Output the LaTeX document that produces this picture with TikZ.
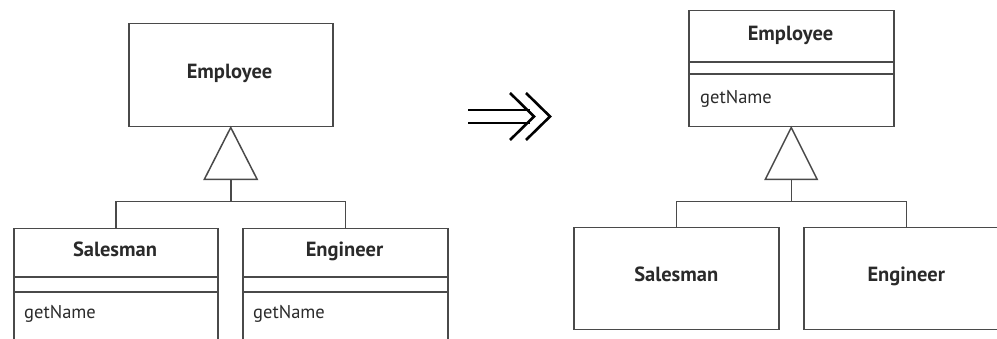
\documentclass[tikz,border=0pt]{standalone}
\usepackage{fontspec}
\setmainfont{PT Sans}
\definecolor{linec}{HTML}{4A4A4A}
\definecolor{textc}{HTML}{2A2A2A}
\begin{document}
\begin{tikzpicture}[x=1pt,y=-1pt,
  box/.style={draw=linec, line width=1.5pt, inner sep=0pt, anchor=north west, text=textc},
  title/.style={text=textc, font=\fontsize{20.5}{22}\selectfont\bfseries, inner sep=0pt, text height=0.72em, text depth=0.1em},
  oper/.style={text=textc, font=\fontsize{18.5}{20}\selectfont, inner sep=0pt, anchor=west, text height=0.72em, text depth=0.1em},
  conn/.style={draw=linec, line width=1.5pt},
  sep/.style={draw=linec, line width=1.5pt}]
\useasboundingbox (0,0) rectangle (997,339);
\clip (0,0) rectangle (997,339);
% ---------- left ----------
\node[box, minimum width=204, minimum height=103] (E1) at (128,23) {};
\node[title] (E1t) at (229.5,75) {Employee};
\node[box, minimum width=204, minimum height=140] (S1) at (13,228) {};
\node[box, minimum width=205, minimum height=140] (G1) at (242,228) {};
\node[title] (S1t) at (115,253) {Salesman};
\node[title] (G1t) at (344.5,253) {Engineer};
\draw[sep] (13,277) -- (217,277) (13,292) -- (217,292);
\draw[sep] (242,277) -- (447,277) (242,292) -- (447,292);
\node[oper] (S1o) at (24,315) {getName};
\node[oper] (G1o) at (253,315) {getName};
\coordinate (T1a) at (E1.south);
\coordinate (T1b) at ([yshift=-52pt]E1.south);
\coordinate (J1) at ([yshift=-74pt]E1.south);
\draw[conn, fill=white] (T1a) -- ++(-26.5,52) -- ++(53,0) -- cycle;
\draw[conn] (T1b) -- (J1);
\draw[conn] (S1.north) |- (J1) -| (G1.north);
% ---------- transformation arrow ----------
\coordinate (A0) at (468,110);
\coordinate (A1) at (468,123);
\draw[conn, line width=2.4pt, draw=black] (A0) -- ++(62,0) (A1) -- ++(62,0);
\draw[conn, line width=2.6pt, draw=black] (510,93) -- (534,116.5) -- (510,140);
\draw[conn, line width=2.6pt, draw=black] (526,93) -- (550,116.5) -- (526,140);
% ---------- right ----------
\node[box, minimum width=205, minimum height=116] (E2) at (688,10) {};
\node[title] (E2t) at (790.5,37) {Employee};
\draw[sep] (688,62) -- (893,62) (688,74) -- (893,74);
\node[oper] (E2o) at (700,100) {getName};
\node[box, minimum width=205, minimum height=102] (S2) at (573,227) {};
\node[title] (S2t) at (S2.center) {Salesman};
\node[box, minimum width=205, minimum height=102] (G2) at (803,227) {};
\node[title] (G2t) at (G2.center) {Engineer};
\coordinate (T2a) at (E2.south);
\coordinate (T2b) at ([yshift=-52pt]E2.south);
\coordinate (J2) at ([yshift=-74pt]E2.south);
\draw[conn, fill=white] (T2a) -- ++(-26,52) -- ++(52,0) -- cycle;
\draw[conn] (T2b) -- (J2);
\draw[conn] (S2.north) |- (J2) -| (G2.north);
\end{tikzpicture}
\end{document}
